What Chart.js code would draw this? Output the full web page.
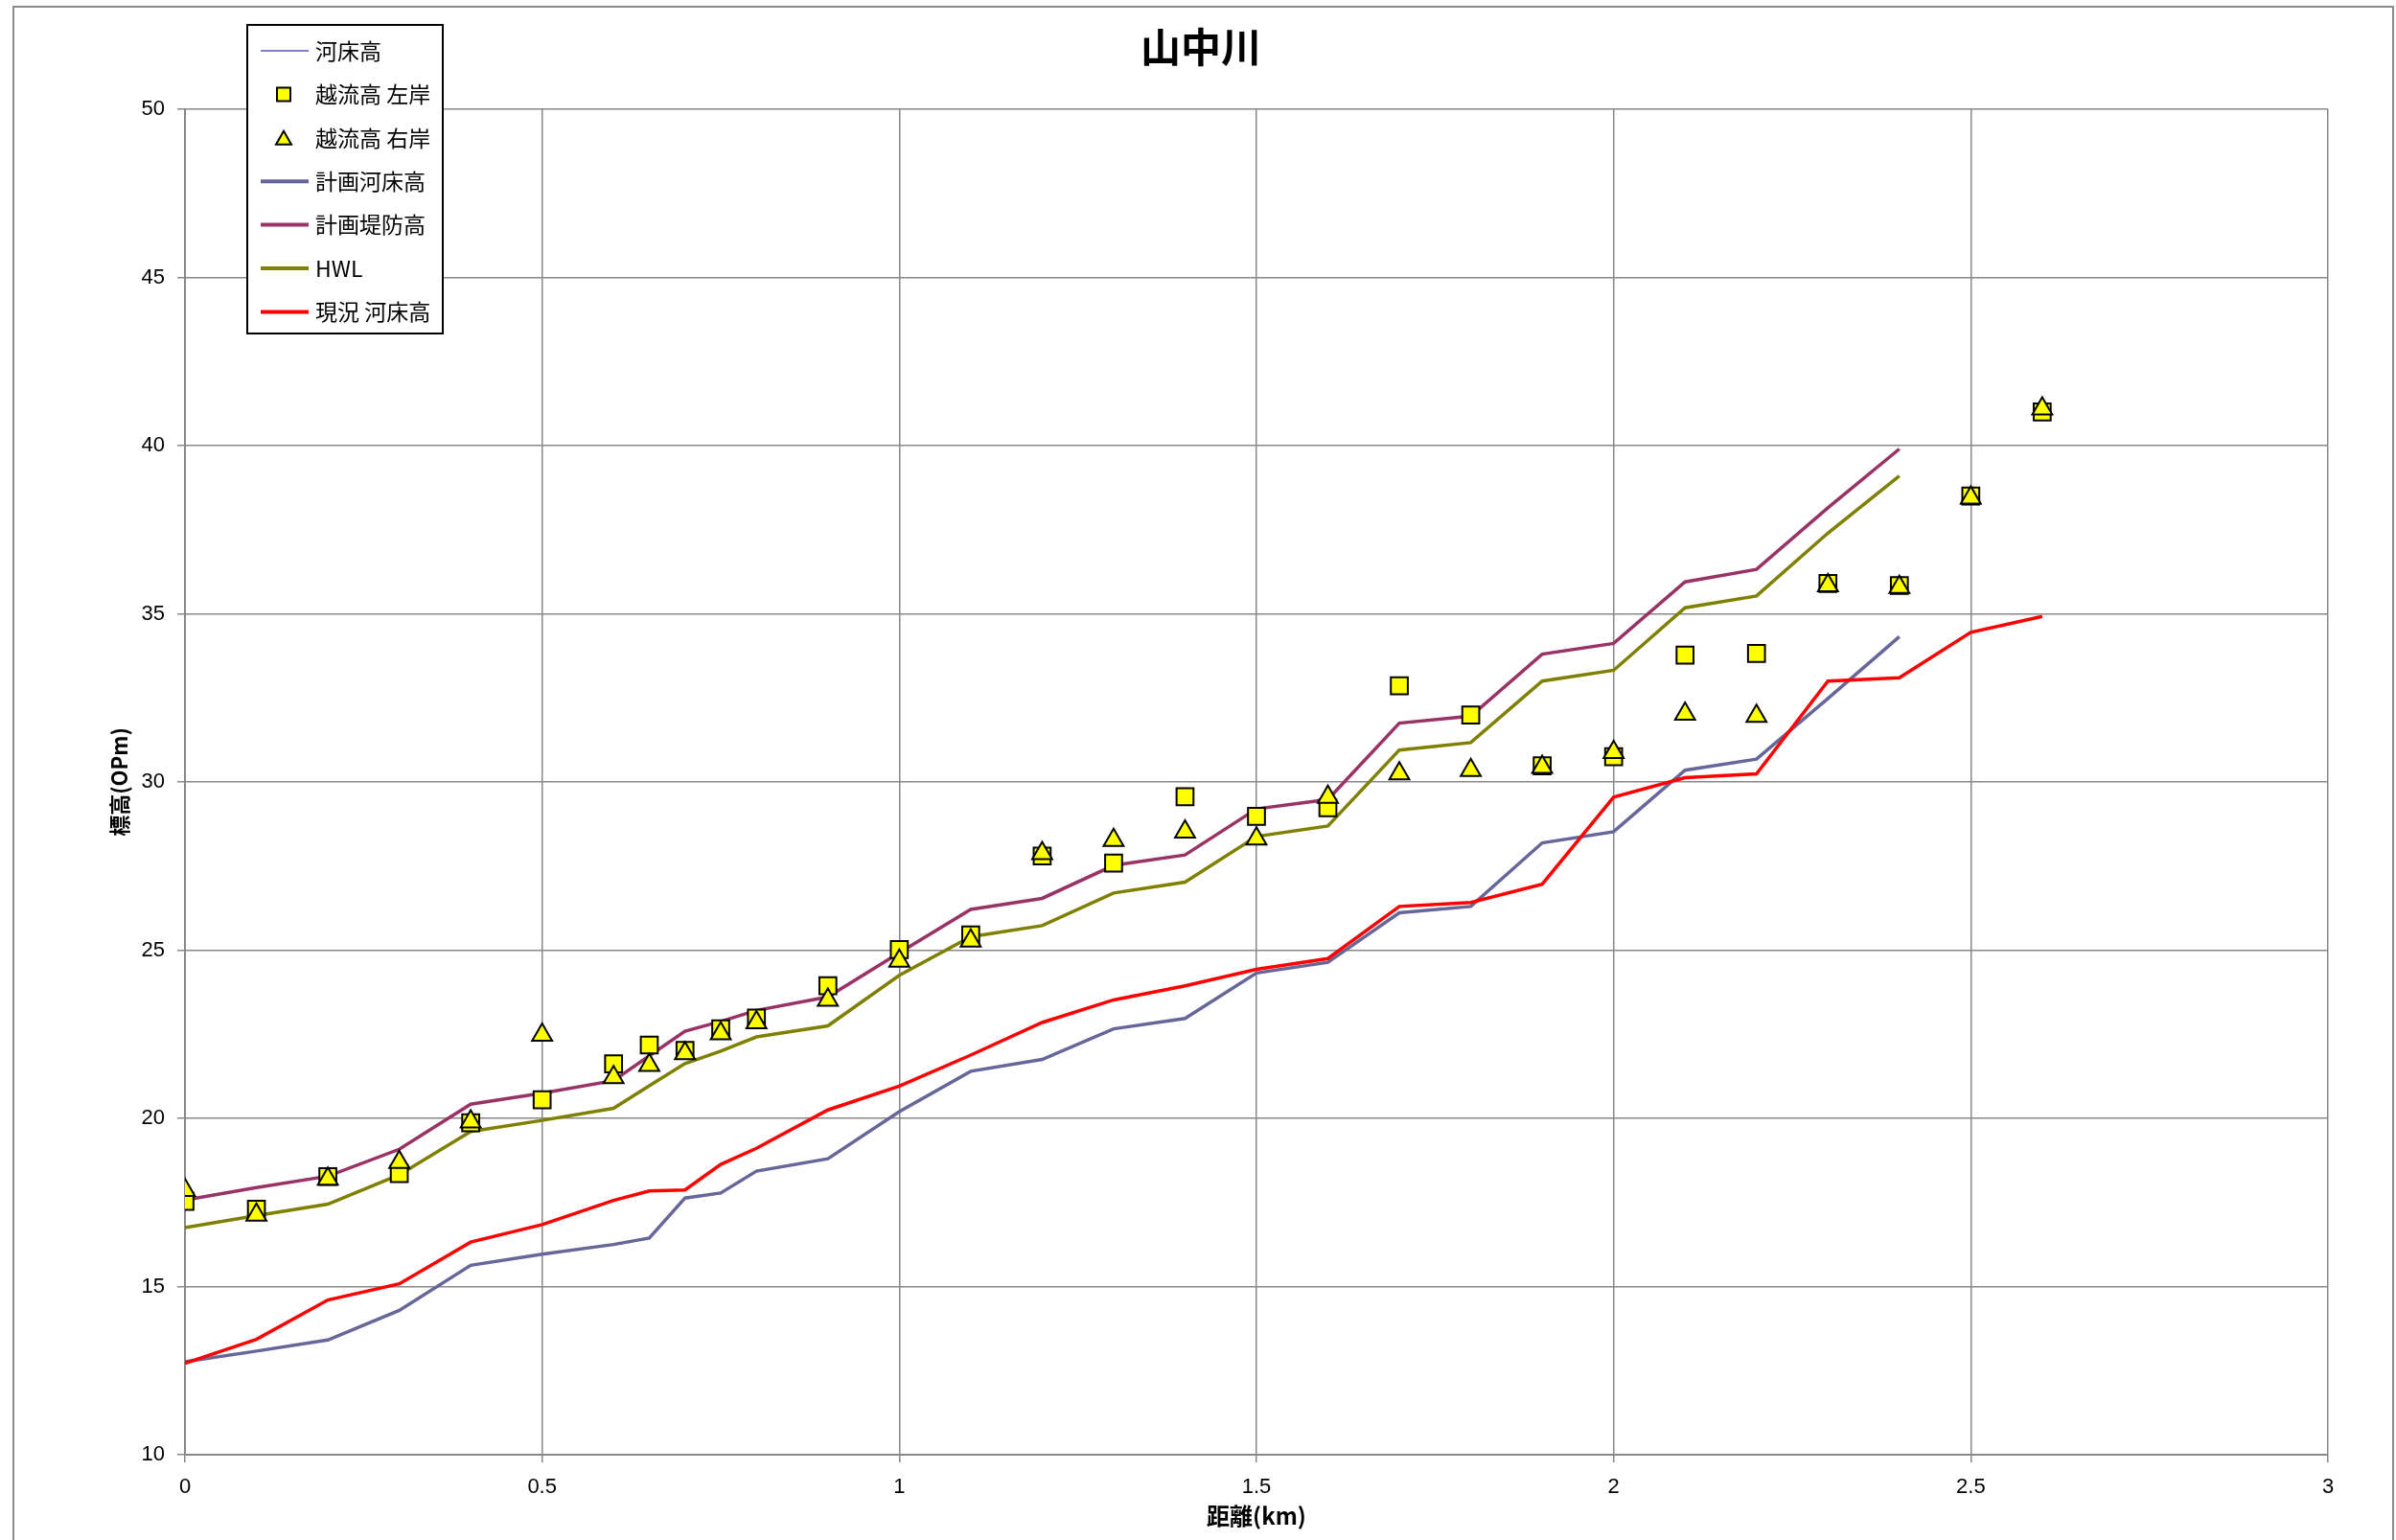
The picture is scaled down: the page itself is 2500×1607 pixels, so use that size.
<!DOCTYPE html>
<html>
<head>
<meta charset="utf-8">
<title>山中川</title>
<script src="https://cdn.jsdelivr.net/npm/chart.js@4.4.0/dist/chart.umd.min.js"></script>
<style>
  body { margin: 0; background: #ffffff; }
  canvas { display: block; }
</style>
</head>
<body>
<canvas id="chart" width="2500" height="1607"></canvas>
<script>
// 距離(km)
var distance = [0, 0.1, 0.2, 0.3, 0.4, 0.5, 0.6, 0.65, 0.7, 0.75, 0.8, 0.9, 1.0, 1.1, 1.2, 1.3, 1.4,
                1.5, 1.6, 1.7, 1.8, 1.9, 2.0, 2.1, 2.2, 2.3, 2.4, 2.5, 2.6];

// 河床高 (no visible line in the picture)
var riverbed = [];
// 越流高 左岸
var overflowLeft = [17.53, 17.3, 18.27, 18.36, 19.87, 20.55, 21.62, 22.18, 22.02, 22.66, 22.98, 23.94, 25.02,
                    25.45, 27.8, 27.59, 29.56, 28.98, 29.23, 32.86, 31.99, 30.48, 30.75, 33.77, 33.82, 35.9,
                    35.84, 38.5, 41.0];
// 越流高 右岸
var overflowRight = [17.86, 17.13, 18.2, 18.7, 19.9, 22.48, 21.22, 21.58, 21.93, 22.52, 22.85, 23.52, 24.68,
                     25.28, 27.88, 28.27, 28.52, 28.31, 29.55, 30.25, 30.35, 30.44, 30.88, 32.02, 31.96, 35.84,
                     35.79, 38.45, 41.1];
// 計画河床高
var planBed = [12.76, 13.08, 13.41, 14.29, 15.63, 15.96, 16.25, 16.44, 17.63, 17.78, 18.43, 18.8, 20.2,
               21.4, 21.75, 22.66, 22.97, 24.32, 24.64, 26.11, 26.3, 28.19, 28.52, 30.35, 30.68, 32.48, 34.32];
// 計画堤防高
var planDike = [17.57, 17.94, 18.28, 19.08, 20.42, 20.75, 21.12, 21.86, 22.59, 22.88, 23.21, 23.61, 24.92,
                26.21, 26.54, 27.52, 27.83, 29.2, 29.48, 31.75, 31.96, 33.8, 34.12, 35.95, 36.32, 38.15, 39.9];
// HWL
var hwl = [16.75, 17.11, 17.45, 18.32, 19.61, 19.94, 20.3, 20.97, 21.63, 22.0, 22.42, 22.75, 24.25,
           25.4, 25.73, 26.7, 27.02, 28.38, 28.69, 30.95, 31.17, 33.0, 33.32, 35.18, 35.53, 37.4, 39.1];
// 現況 河床高
var currentBed = [12.72, 13.43, 14.6, 15.08, 16.32, 16.84, 17.56, 17.84, 17.87, 18.63, 19.11, 20.25, 20.96,
                  21.88, 22.85, 23.52, 23.94, 24.43, 24.75, 26.3, 26.42, 26.96, 29.55, 30.13, 30.24, 33.0,
                  33.1, 34.45, 34.92];

var yTicks = [10, 15, 20, 25, 30, 35, 40, 45, 50];
var xTicks = [0, 0.5, 1, 1.5, 2, 2.5, 3];
var chartTitle = '山中川';

function pts(values) {
  return values.map(function(v, i) { return { x: distance[i], y: v }; });
}

var jpFont = '"Noto Sans CJK JP", "Noto Sans", sans-serif';

// outer frame, title and legend box (drawn on the canvas)
var framePlugin = {
  id: 'frame',
  beforeDraw: function(chart) {
    var c = chart.ctx;
    c.save();
    c.fillStyle = '#ffffff';
    c.fillRect(0, 0, chart.width, chart.height);
    c.strokeStyle = '#8c8c8c';
    c.lineWidth = 2;
    c.strokeRect(14, 7, 2483, 1640);
    c.restore();
  },
  afterDraw: function(chart) {
    var c = chart.ctx;
    c.save();
    // title
    c.fillStyle = '#000000';
    c.font = 'bold 42px ' + jpFont;
    c.textAlign = 'center';
    c.textBaseline = 'middle';
    c.fillText(chartTitle, 1253, 49);

    // legend
    c.fillStyle = '#ffffff';
    c.fillRect(258, 26, 204, 322);
    c.strokeStyle = '#000000';
    c.lineWidth = 2;
    c.strokeRect(258, 26, 204, 322);
    chart.data.datasets.forEach(function(ds, i) {
      var y = 53 + i * 45.4;
      if (ds.showLine === false) {
        c.fillStyle = ds.pointBackgroundColor;
        c.strokeStyle = ds.pointBorderColor;
        c.lineWidth = 2;
        c.beginPath();
        if (ds.pointStyle === 'triangle') {
          c.moveTo(296, y - 7);
          c.lineTo(304, y + 7);
          c.lineTo(288, y + 7);
          c.closePath();
        } else {
          c.rect(289, y - 7, 14, 14);
        }
        c.fill();
        c.stroke();
      } else {
        c.strokeStyle = ds.borderColor;
        c.lineWidth = ds.legendWidth;
        c.beginPath();
        c.moveTo(272, y);
        c.lineTo(322, y);
        c.stroke();
      }
      c.fillStyle = '#000000';
      c.font = '23px ' + jpFont;
      c.textBaseline = 'middle';
      c.textAlign = 'left';
      c.fillText(ds.label, 329, y);
    });
    c.restore();
  }
};

var ctx = document.getElementById('chart');

var config = {
  type: 'line',
  data: {
    datasets: [
      { label: '河床高', data: pts(riverbed), borderColor: '#8080c0', borderWidth: 2, legendWidth: 2,
        pointRadius: 0, order: 6 },
      { label: '越流高 左岸', data: pts(overflowLeft), showLine: false, pointStyle: 'rect',
        pointRadius: 12.5, pointBackgroundColor: '#ffff00', pointBorderColor: '#000000',
        pointBorderWidth: 2, order: 1 },
      { label: '越流高 右岸', data: pts(overflowRight), showLine: false, pointStyle: 'triangle',
        pointRadius: 12, pointBackgroundColor: '#ffff00', pointBorderColor: '#000000',
        pointBorderWidth: 2, order: 0 },
      { label: '計画河床高', data: pts(planBed), borderColor: '#666699', borderWidth: 3.5, legendWidth: 4,
        pointRadius: 0, order: 5 },
      { label: '計画堤防高', data: pts(planDike), borderColor: '#993366', borderWidth: 3.5, legendWidth: 4,
        pointRadius: 0, order: 4 },
      { label: 'HWL', data: pts(hwl), borderColor: '#808000', borderWidth: 3.5, legendWidth: 4,
        pointRadius: 0, order: 3 },
      { label: '現況 河床高', data: pts(currentBed), borderColor: '#ff0000', borderWidth: 3.5, legendWidth: 4,
        pointRadius: 0, order: 2 }
    ]
  },
  options: {
    responsive: false,
    animation: false,
    devicePixelRatio: 1,
    layout: { padding: { left: 0, right: 71, top: 114, bottom: 0 } },
    elements: { line: { tension: 0, fill: false } },
    plugins: {
      legend: { display: false },
      tooltip: { enabled: false },
      title: { display: false }
    },
    scales: {
      x: {
        type: 'linear',
        min: 0,
        max: 3,
        afterFit: function(scale) { scale.height = 89; },
        afterBuildTicks: function(scale) {
          scale.ticks = xTicks.map(function(v) { return { value: v }; });
        },
        ticks: {
          color: '#000000',
          padding: 13,
          maxRotation: 0,
          callback: function(v) { return String(v); },
          font: { family: '"Liberation Sans", Arial, sans-serif', size: 22 }
        },
        grid: { color: '#888888', lineWidth: 1.5, tickLength: 8 },
        border: { color: '#888888', width: 2 },
        title: {
          display: true,
          text: '距離(km)',
          color: '#000000',
          font: { family: jpFont, size: 24, weight: 'bold', lineHeight: 1.2 },
          padding: { top: 0, bottom: 11 }
        }
      },
      y: {
        type: 'linear',
        min: 10,
        max: 50,
        afterFit: function(scale) { scale.width = 193; },
        afterBuildTicks: function(scale) {
          scale.ticks = yTicks.map(function(v) { return { value: v }; });
        },
        ticks: {
          color: '#000000',
          padding: 13,
          callback: function(v) { return String(v); },
          font: { family: '"Liberation Sans", Arial, sans-serif', size: 22 }
        },
        grid: { color: '#888888', lineWidth: 1.5, tickLength: 8 },
        border: { color: '#888888', width: 2 },
        title: {
          display: true,
          text: '標高(OPm)',
          color: '#000000',
          font: { family: jpFont, size: 22, weight: 'bold', lineHeight: 1.2 },
          padding: { top: 111, bottom: 0 }
        }
      }
    }
  },
  plugins: [framePlugin]
};

window.myChart = new Chart(ctx, config);
</script>
</body>
</html>
